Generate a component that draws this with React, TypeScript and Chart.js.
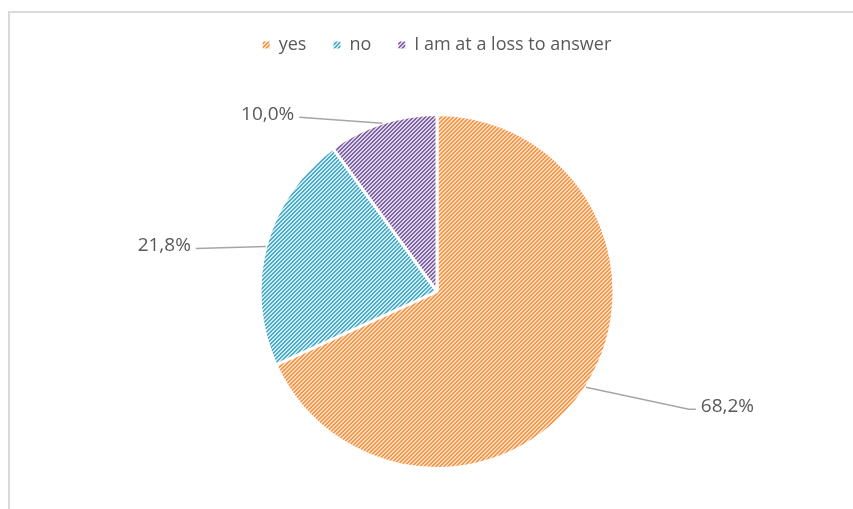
import React, { useEffect, useRef } from 'react';
import { Chart, registerables } from 'chart.js';

Chart.register(...registerables);

const categories = ['yes', 'no', 'I am at a loss to answer'];
const shares = [68.2, 21.8, 10.0];
const stripeColors = ['#f79646', '#4bacc6', '#8064a2'];
const tintColors = ['#fddcc2', '#cfeaf2', '#dcd3e8'];

// leader-line layout: elbow offset from the slice's mid point, horizontal tail length
const leaderOffsets: number[][] = [
  [103, 22, 7],
  [-70, 2, 0],
  [-83, -6, 0],
];

const fmt = (v: number) => v.toFixed(1).replace('.', ',') + '%';

function makeHatch(ctx: CanvasRenderingContext2D, fg: string, bg: string) {
  const tile = document.createElement('canvas');
  tile.width = 4;
  tile.height = 4;
  const g = tile.getContext('2d')!;
  g.fillStyle = bg;
  g.fillRect(0, 0, 4, 4);
  g.fillStyle = fg;
  for (let y = 0; y < 4; y++) {
    for (let x = 0; x < 4; x++) {
      if ((x + y) % 4 < 2) g.fillRect(x, y, 1, 1);
    }
  }
  return ctx.createPattern(tile, 'repeat');
}

const pieLabels = {
  id: 'pieLabels',
  afterDatasetsDraw(chart: any) {
    const ctx = chart.ctx as CanvasRenderingContext2D;
    const meta = chart.getDatasetMeta(0);
    const data = chart.data.datasets[0].data as number[];
    meta.data.forEach((arc: any, i: number) => {
      const { x, y, startAngle, endAngle, outerRadius } = arc.getProps(
        ['x', 'y', 'startAngle', 'endAngle', 'outerRadius'],
        true
      );
      const mid = (startAngle + endAngle) / 2;
      const px = x + Math.cos(mid) * outerRadius;
      const py = y + Math.sin(mid) * outerRadius;
      const [dx, dy, tail] = leaderOffsets[i];
      const ex = px + dx;
      const ey = py + dy;
      const dir = dx >= 0 ? 1 : -1;
      const tx = ex + dir * tail;
      ctx.save();
      ctx.strokeStyle = '#a6a6a6';
      ctx.lineWidth = 1.5;
      ctx.beginPath();
      ctx.moveTo(px, py);
      ctx.lineTo(ex, ey);
      ctx.lineTo(tx, ey);
      ctx.stroke();
      ctx.fillStyle = '#595959';
      ctx.font = '19px "Open Sans"';
      ctx.textAlign = dir > 0 ? 'left' : 'right';
      ctx.textBaseline = 'middle';
      ctx.fillText(fmt(data[i]), tx + dir * 5, ey - 3);
      ctx.restore();
    });
  },
};

export default function App() {
  const ref = useRef<HTMLCanvasElement>(null);

  useEffect(() => {
    const canvas = ref.current!;
    const ctx = canvas.getContext('2d')!;
    const patterns = stripeColors.map((c, i) => makeHatch(ctx, c, tintColors[i]));
    const chart = new Chart(canvas, {
      type: 'pie',
      data: {
        labels: categories,
        datasets: [
          {
            data: shares,
            backgroundColor: patterns as any,
            borderColor: '#ffffff',
            borderWidth: 3,
            hoverOffset: 0,
          },
        ],
      },
      options: {
        animation: false,
        responsive: false,
        devicePixelRatio: 1,
        events: [],
        radius: 177,
        layout: { padding: { left: 11, right: 0, top: 26, bottom: 24 } },
        plugins: {
          tooltip: { enabled: false },
          legend: {
            position: 'top',
            labels: {
              boxWidth: 7,
              boxHeight: 7,
              padding: 27,
              color: '#595959',
              font: { family: 'Open Sans', size: 18 },
              generateLabels: (c: any) =>
                (Chart as any).overrides.pie.plugins.legend.labels
                  .generateLabels(c)
                  .map((l: any) => ({ ...l, lineWidth: 0, strokeStyle: 'rgba(0,0,0,0)' })),
            },
          },
        },
      } as any,
      plugins: [pieLabels],
    });
    return () => chart.destroy();
  }, []);

  return (
    <div
      style={{
        position: 'absolute',
        left: 8,
        top: 11,
        width: 843,
        height: 496,
        borderLeft: '2px solid #d9d9d9',
        borderTop: '2px solid #d9d9d9',
        overflow: 'hidden',
        background: '#ffffff',
      }}
    >
      <canvas
        ref={ref}
        width={843}
        height={560}
        style={{ position: 'absolute', left: 0, top: -30, width: 843, height: 560 }}
      />
    </div>
  );
}
